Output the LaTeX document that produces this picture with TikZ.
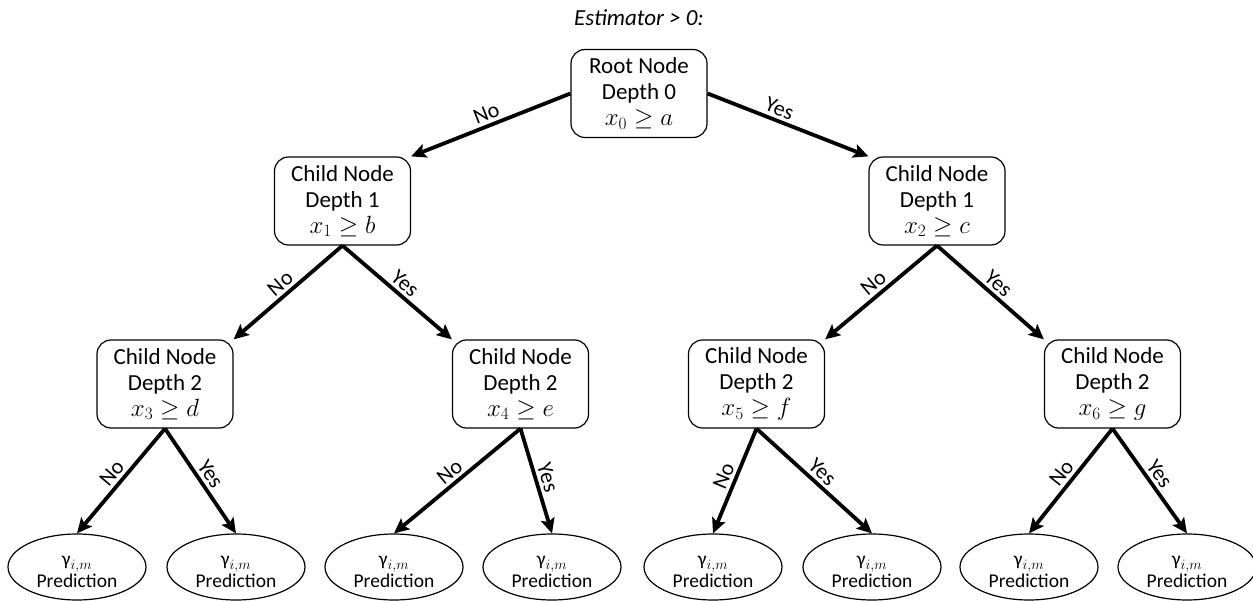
\documentclass[tikz,border=0pt]{standalone}
\usepackage{fontspec}
\setmainfont{Carlito}
\usetikzlibrary{arrows.meta,shapes.geometric}

\begin{document}
\begin{tikzpicture}[x=1pt,y=-1pt,
  treebox/.style={draw, line width=1.2pt, rounded corners=14pt,
    minimum width=136pt, minimum height=88pt, inner sep=0pt,
    align=center, font=\fontsize{23}{26}\selectfont},
  leafnode/.style={draw, ellipse, line width=1.2pt,
    minimum width=138pt, minimum height=66pt, inner sep=0pt,
    align=center, font=\fontsize{19.5}{22}\selectfont},
  branch/.style={line width=3.8pt,
    -{Stealth[length=15pt,width=14pt,inset=3pt]}},
  lbl/.style={sloped, above, inner sep=3pt,
    font=\fontsize{22}{24}\selectfont}]

\useasboundingbox (0,0) rectangle (1253,601);

% title
\node[font=\fontsize{23}{26}\selectfont\itshape] (title) at (639,18) {Estimator > 0:};

% split nodes
\node[treebox] (root) at (639,93.5) {Root Node\\Depth 0\\$x_0 \geq a$};

\node[treebox] (c1) at (342.5,201) {Child Node\\Depth 1\\$x_1 \geq b$};
\node[treebox] (c2) at (937,201)   {Child Node\\Depth 1\\$x_2 \geq c$};

\node[treebox] (d1) at (165,384)   {Child Node\\Depth 2\\$x_3 \geq d$};
\node[treebox] (d2) at (520.5,384) {Child Node\\Depth 2\\$x_4 \geq e$};
\node[treebox] (d3) at (756.5,384) {Child Node\\Depth 2\\$x_5 \geq f$};
\node[treebox] (d4) at (1112.5,384){Child Node\\Depth 2\\$x_6 \geq g$};

% leaves (the strut on the first line sets the text a little low)
\foreach \n/\x in {l1/77, l2/236, l3/394, l4/552, l5/713, l6/872, l7/1029, l8/1187}
  \node[leafnode] (\n) at (\x,567) {\rule{0pt}{20pt}γ$_{i,m}$\\Prediction};

% branches from the root
\draw[branch] (root.west) -- node[lbl, pos=0.5] {No} (c1.north east);
\draw[branch] (root.east) -- node[lbl, pos=0.42] {Yes} (c2.north west);

% depth 1 to depth 2
\draw[branch] (c1.south) -- node[lbl] {No} (d1.north east);
\draw[branch] (c1.south) -- node[lbl] {Yes} (d2.north west);
\draw[branch] (c2.south) -- node[lbl] {No} (d3.north east);
\draw[branch] (c2.south) -- node[lbl] {Yes} (d4.north west);

% depth 2 to leaves
\draw[branch] (d1.south) -- node[lbl] {No} (l1.north);
\draw[branch] (d1.south) -- node[lbl] {Yes} (l2.north);
\draw[branch] (d2.south) -- node[lbl] {No} (l3.north);
\draw[branch] (d2.south) -- node[lbl] {Yes} (l4.north);
\draw[branch] (d3.south) -- node[lbl] {No} (l5.north);
\draw[branch] (d3.south) -- node[lbl] {Yes} (l6.north);
\draw[branch] (d4.south) -- node[lbl] {No} (l7.north);
\draw[branch] (d4.south) -- node[lbl] {Yes} (l8.north);

\end{tikzpicture}
\end{document}
